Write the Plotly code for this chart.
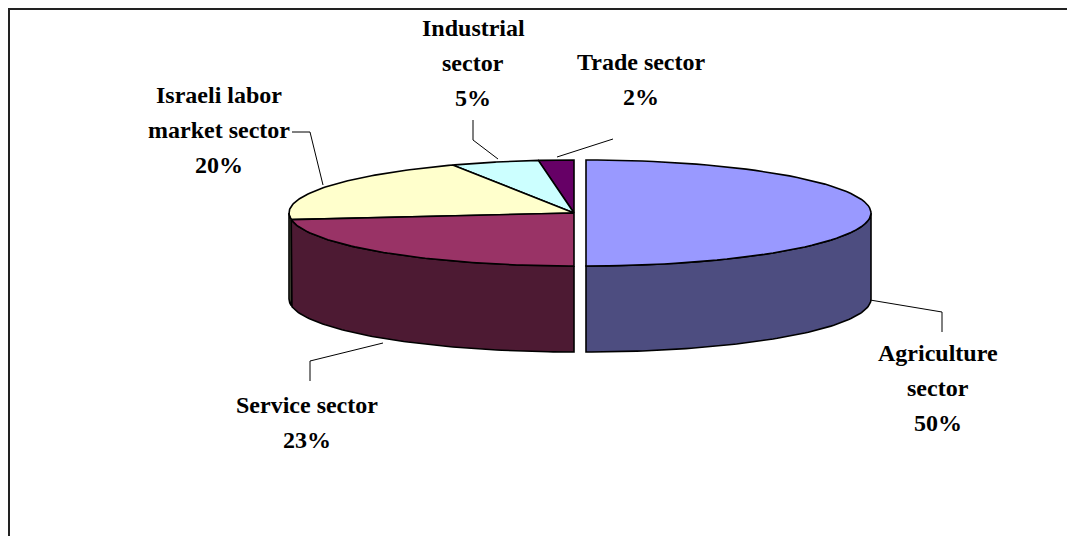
import numpy as np
import plotly.graph_objects as go

# ---------------- data ----------------
categories = ["Agriculture sector", "Service sector", "Israeli labor market sector",
              "Industrial sector", "Trade sector"]
values = [50, 23, 20, 5, 2]
label_lines = [["Agriculture", "sector"], ["Service sector"], ["Israeli labor", "market sector"],
               ["Industrial", "sector"], ["Trade sector"]]
top_colors = ["#9999FF", "#993366", "#FFFFCC", "#CCFFFF", "#660066"]
side_colors = ["#4D4D80", "#4D1A33", "#808066", "#668080", "#330033"]
explode_dx = [12, 0, 0, 0, 0]

# ---------------- geometry (layout) ----------------
W, H = 1075, 536
OFF = 8  # page body margin
cx, cy, rx, ry, depth = 574, 213, 285, 53, 86

def arc(a1, a2, dx, dz=0, n=80):
    t = np.radians(np.linspace(a1, a2, n))
    return cx + dx + rx * np.sin(t), cy - ry * np.cos(t) + dz

total = sum(values)
starts, ends = [], []
acc = 0.0
for v in values:
    starts.append(acc * 360 / total)
    acc += v
    ends.append(acc * 360 / total)

fig = go.Figure()

def poly(xs, ys, color):
    fig.add_trace(go.Scatter(x=list(xs), y=list(ys), mode="lines", fill="toself",
                             fillcolor=color, line=dict(color="black", width=1.6),
                             hoverinfo="skip", showlegend=False))

# back tops first (slices entirely behind)
for i in [4, 3, 2]:
    x, y = arc(starts[i], ends[i], explode_dx[i])
    poly(np.r_[cx + explode_dx[i], x, cx + explode_dx[i]], np.r_[cy, y, cy], top_colors[i])

# walls (front half: 90..270 degrees)
for i in [2, 1, 0]:
    lo, hi = max(starts[i], 90), min(ends[i], 270)
    if hi <= lo:
        continue
    xt, yt = arc(lo, hi, explode_dx[i])
    xb, yb = arc(hi, lo, explode_dx[i], depth)
    poly(np.r_[xt, xb, xt[0]], np.r_[yt, yb, yt[0]], side_colors[i])

# front tops
for i in [1, 0]:
    x, y = arc(starts[i], ends[i], explode_dx[i])
    poly(np.r_[cx + explode_dx[i], x, cx + explode_dx[i]], np.r_[cy, y, cy], top_colors[i])

# leader lines
leaders = [
    [(942, 332), (942, 312), (870, 300)],
    [(310, 381), (310, 361), (383, 343)],
    [(292, 132), (310, 132), (323, 185)],
    [(473, 120), (473, 140), (498, 159)],
    [(613, 139), (557, 157)],
]
for pts in leaders:
    fig.add_trace(go.Scatter(x=[p[0] for p in pts], y=[p[1] for p in pts], mode="lines",
                             line=dict(color="black", width=1), hoverinfo="skip",
                             showlegend=False))

# labels
label_pos = [(938, 353), (307, 405), (219, 95), (473, 28), (641, 62)]
line_gap = 35
font = dict(family="Liberation Serif, Times New Roman, serif", size=24, color="black",
            weight="bold")
for i, (lx, ly) in enumerate(label_pos):
    lines = label_lines[i] + [f"{values[i] / total * 100:.0f}%"]
    for k, txt in enumerate(lines):
        fig.add_annotation(x=lx, y=ly + k * line_gap, text=txt, showarrow=False,
                           font=font, xanchor="center", yanchor="middle")

# frame
fig.add_shape(type="rect", x0=9, y0=9, x1=W + 20, y1=H + 20,
              line=dict(color="#222222", width=2))

fig.update_layout(width=W, height=H, margin=dict(l=0, r=0, t=0, b=0),
                  paper_bgcolor="white", plot_bgcolor="white",
                  xaxis=dict(range=[OFF, W + OFF], visible=False, fixedrange=True),
                  yaxis=dict(range=[H + OFF, OFF], visible=False, fixedrange=True))
fig.write_html("out.html")
